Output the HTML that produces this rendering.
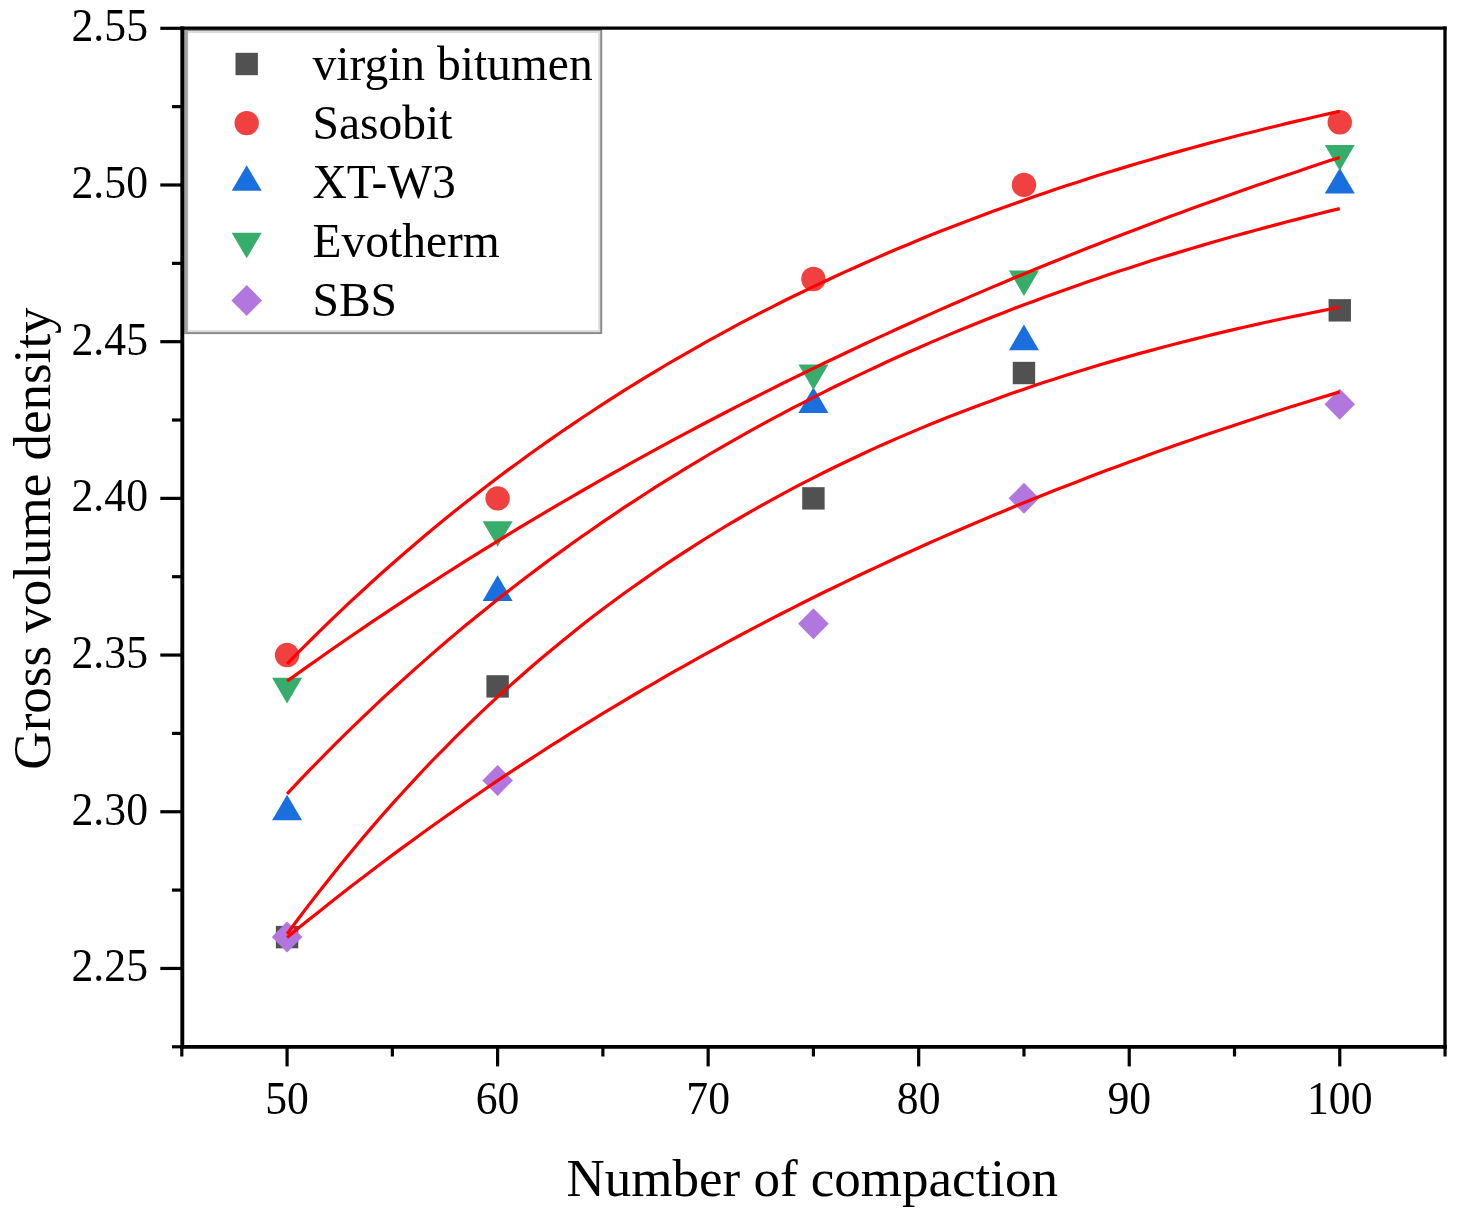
<!DOCTYPE html><html><head><meta charset="utf-8"><style>html,body{margin:0;padding:0;background:#fff;}svg{display:block;filter:blur(0.65px);}text{font-family:"Liberation Serif",serif;fill:#000;}</style></head><body>
<svg width="1462" height="1217" viewBox="0 0 1462 1217">
<rect width="1462" height="1217" fill="#fff"/>
<rect x="275.87" y="925.90" width="22.4" height="22.4" fill="#515151"/>
<rect x="486.41" y="675.20" width="22.4" height="22.4" fill="#515151"/>
<rect x="802.22" y="487.17" width="22.4" height="22.4" fill="#515151"/>
<rect x="1012.76" y="361.82" width="22.4" height="22.4" fill="#515151"/>
<rect x="1328.57" y="299.14" width="22.4" height="22.4" fill="#515151"/>
<circle cx="287.07" cy="655.06" r="12.2" fill="#F14040"/>
<circle cx="497.61" cy="498.37" r="12.2" fill="#F14040"/>
<circle cx="813.42" cy="279.00" r="12.2" fill="#F14040"/>
<circle cx="1023.96" cy="184.99" r="12.2" fill="#F14040"/>
<circle cx="1339.77" cy="122.31" r="12.2" fill="#F14040"/>
<polygon points="287.07,794.68 302.07,820.28 272.07,820.28" fill="#1A6FDF"/>
<polygon points="497.61,575.32 512.61,600.92 482.61,600.92" fill="#1A6FDF"/>
<polygon points="813.42,387.29 828.42,412.89 798.42,412.89" fill="#1A6FDF"/>
<polygon points="1023.96,324.61 1038.96,350.21 1008.96,350.21" fill="#1A6FDF"/>
<polygon points="1339.77,167.92 1354.77,193.52 1324.77,193.52" fill="#1A6FDF"/>
<polygon points="272.07,677.86 302.07,677.86 287.07,703.46" fill="#37AD6B"/>
<polygon points="482.61,521.17 512.61,521.17 497.61,546.77" fill="#37AD6B"/>
<polygon points="798.42,364.48 828.42,364.48 813.42,390.08" fill="#37AD6B"/>
<polygon points="1008.96,270.47 1038.96,270.47 1023.96,296.07" fill="#37AD6B"/>
<polygon points="1324.77,145.12 1354.77,145.12 1339.77,170.72" fill="#37AD6B"/>
<polygon points="287.07,921.60 302.37,937.10 287.07,952.60 271.77,937.10" fill="#B177DE"/>
<polygon points="497.61,764.91 512.91,780.41 497.61,795.91 482.31,780.41" fill="#B177DE"/>
<polygon points="813.42,608.22 828.72,623.72 813.42,639.22 798.12,623.72" fill="#B177DE"/>
<polygon points="1023.96,482.87 1039.26,498.37 1023.96,513.87 1008.66,498.37" fill="#B177DE"/>
<polygon points="1339.77,388.86 1355.07,404.36 1339.77,419.86 1324.47,404.36" fill="#B177DE"/>
<polyline points="287.1,934.0 297.6,919.8 308.1,905.9 318.7,892.3 329.2,878.9 339.7,865.7 350.2,852.9 360.8,840.3 371.3,827.9 381.8,815.7 392.3,803.9 402.9,792.2 413.4,780.8 423.9,769.5 434.4,758.5 445.0,747.8 455.5,737.2 466.0,726.8 476.6,716.7 487.1,706.7 497.6,696.9 508.1,687.4 518.7,678.0 529.2,668.8 539.7,659.7 550.2,650.9 560.8,642.2 571.3,633.7 581.8,625.3 592.4,617.1 602.9,609.1 613.4,601.3 623.9,593.5 634.5,586.0 645.0,578.6 655.5,571.3 666.0,564.2 676.6,557.2 687.1,550.3 697.6,543.6 708.1,537.0 718.7,530.5 729.2,524.2 739.7,518.0 750.3,511.9 760.8,505.9 771.3,500.1 781.8,494.3 792.4,488.7 802.9,483.2 813.4,477.8 823.9,472.5 834.5,467.3 845.0,462.2 855.5,457.2 866.1,452.3 876.6,447.4 887.1,442.7 897.6,438.1 908.2,433.6 918.7,429.1 929.2,424.8 939.7,420.5 950.3,416.3 960.8,412.2 971.3,408.2 981.9,404.2 992.4,400.4 1002.9,396.6 1013.4,392.8 1024.0,389.2 1034.5,385.6 1045.0,382.1 1055.5,378.7 1066.1,375.3 1076.6,372.0 1087.1,368.7 1097.6,365.5 1108.2,362.4 1118.7,359.4 1129.2,356.4 1139.8,353.4 1150.3,350.6 1160.8,347.7 1171.3,345.0 1181.9,342.2 1192.4,339.6 1202.9,337.0 1213.4,334.4 1224.0,331.9 1234.5,329.4 1245.0,327.0 1255.6,324.6 1266.1,322.3 1276.6,320.0 1287.1,317.8 1297.7,315.6 1308.2,313.5 1318.7,311.4 1329.2,309.3 1339.8,307.3" fill="none" stroke="#FF0000" stroke-width="3.2" stroke-linejoin="round"/>
<polyline points="287.1,663.8 297.6,653.1 308.1,642.6 318.7,632.2 329.2,621.9 339.7,611.9 350.2,601.9 360.8,592.2 371.3,582.5 381.8,573.0 392.3,563.7 402.9,554.5 413.4,545.5 423.9,536.5 434.4,527.8 445.0,519.1 455.5,510.6 466.0,502.2 476.6,494.0 487.1,485.8 497.6,477.8 508.1,469.9 518.7,462.2 529.2,454.5 539.7,447.0 550.2,439.6 560.8,432.2 571.3,425.1 581.8,418.0 592.4,411.0 602.9,404.1 613.4,397.3 623.9,390.7 634.5,384.1 645.0,377.7 655.5,371.3 666.0,365.0 676.6,358.8 687.1,352.8 697.6,346.8 708.1,340.9 718.7,335.1 729.2,329.4 739.7,323.7 750.3,318.2 760.8,312.7 771.3,307.3 781.8,302.0 792.4,296.8 802.9,291.7 813.4,286.6 823.9,281.7 834.5,276.7 845.0,271.9 855.5,267.2 866.1,262.5 876.6,257.9 887.1,253.3 897.6,248.8 908.2,244.4 918.7,240.1 929.2,235.8 939.7,231.6 950.3,227.5 960.8,223.4 971.3,219.4 981.9,215.4 992.4,211.5 1002.9,207.7 1013.4,203.9 1024.0,200.2 1034.5,196.5 1045.0,192.9 1055.5,189.3 1066.1,185.8 1076.6,182.4 1087.1,179.0 1097.6,175.6 1108.2,172.3 1118.7,169.1 1129.2,165.9 1139.8,162.8 1150.3,159.7 1160.8,156.6 1171.3,153.6 1181.9,150.6 1192.4,147.7 1202.9,144.9 1213.4,142.0 1224.0,139.3 1234.5,136.5 1245.0,133.8 1255.6,131.2 1266.1,128.5 1276.6,126.0 1287.1,123.4 1297.7,120.9 1308.2,118.5 1318.7,116.0 1329.2,113.6 1339.8,111.3" fill="none" stroke="#FF0000" stroke-width="3.2" stroke-linejoin="round"/>
<polyline points="287.1,793.8 297.6,782.7 308.1,771.7 318.7,760.9 329.2,750.2 339.7,739.7 350.2,729.4 360.8,719.2 371.3,709.1 381.8,699.2 392.3,689.5 402.9,679.9 413.4,670.4 423.9,661.1 434.4,651.9 445.0,642.8 455.5,633.9 466.0,625.1 476.6,616.4 487.1,607.9 497.6,599.5 508.1,591.2 518.7,583.0 529.2,575.0 539.7,567.1 550.2,559.3 560.8,551.6 571.3,544.0 581.8,536.5 592.4,529.2 602.9,521.9 613.4,514.8 623.9,507.7 634.5,500.8 645.0,494.0 655.5,487.2 666.0,480.6 676.6,474.1 687.1,467.6 697.6,461.3 708.1,455.0 718.7,448.9 729.2,442.8 739.7,436.8 750.3,430.9 760.8,425.1 771.3,419.4 781.8,413.8 792.4,408.2 802.9,402.8 813.4,397.4 823.9,392.1 834.5,386.8 845.0,381.7 855.5,376.6 866.1,371.6 876.6,366.7 887.1,361.8 897.6,357.0 908.2,352.3 918.7,347.7 929.2,343.1 939.7,338.6 950.3,334.1 960.8,329.8 971.3,325.5 981.9,321.2 992.4,317.0 1002.9,312.9 1013.4,308.8 1024.0,304.8 1034.5,300.9 1045.0,297.0 1055.5,293.2 1066.1,289.4 1076.6,285.7 1087.1,282.0 1097.6,278.4 1108.2,274.8 1118.7,271.3 1129.2,267.9 1139.8,264.5 1150.3,261.1 1160.8,257.8 1171.3,254.6 1181.9,251.4 1192.4,248.2 1202.9,245.1 1213.4,242.0 1224.0,239.0 1234.5,236.0 1245.0,233.1 1255.6,230.2 1266.1,227.4 1276.6,224.6 1287.1,221.8 1297.7,219.1 1308.2,216.4 1318.7,213.7 1329.2,211.1 1339.8,208.6" fill="none" stroke="#FF0000" stroke-width="3.2" stroke-linejoin="round"/>
<polyline points="287.1,681.1 297.6,673.6 308.1,666.1 318.7,658.7 329.2,651.3 339.7,644.0 350.2,636.7 360.8,629.6 371.3,622.4 381.8,615.3 392.3,608.3 402.9,601.4 413.4,594.4 423.9,587.6 434.4,580.8 445.0,574.0 455.5,567.3 466.0,560.7 476.6,554.1 487.1,547.6 497.6,541.1 508.1,534.6 518.7,528.2 529.2,521.9 539.7,515.6 550.2,509.4 560.8,503.2 571.3,497.1 581.8,491.0 592.4,484.9 602.9,478.9 613.4,473.0 623.9,467.1 634.5,461.2 645.0,455.4 655.5,449.6 666.0,443.9 676.6,438.2 687.1,432.6 697.6,427.0 708.1,421.5 718.7,416.0 729.2,410.5 739.7,405.1 750.3,399.7 760.8,394.4 771.3,389.1 781.8,383.8 792.4,378.6 802.9,373.5 813.4,368.4 823.9,363.3 834.5,358.2 845.0,353.2 855.5,348.3 866.1,343.3 876.6,338.4 887.1,333.6 897.6,328.8 908.2,324.0 918.7,319.3 929.2,314.6 939.7,309.9 950.3,305.3 960.8,300.7 971.3,296.1 981.9,291.6 992.4,287.1 1002.9,282.7 1013.4,278.3 1024.0,273.9 1034.5,269.6 1045.0,265.2 1055.5,261.0 1066.1,256.7 1076.6,252.5 1087.1,248.3 1097.6,244.2 1108.2,240.1 1118.7,236.0 1129.2,232.0 1139.8,227.9 1150.3,224.0 1160.8,220.0 1171.3,216.1 1181.9,212.2 1192.4,208.3 1202.9,204.5 1213.4,200.7 1224.0,196.9 1234.5,193.2 1245.0,189.5 1255.6,185.8 1266.1,182.2 1276.6,178.5 1287.1,174.9 1297.7,171.4 1308.2,167.8 1318.7,164.3 1329.2,160.8 1339.8,157.4" fill="none" stroke="#FF0000" stroke-width="3.2" stroke-linejoin="round"/>
<polyline points="287.1,937.4 297.6,928.8 308.1,920.3 318.7,911.9 329.2,903.5 339.7,895.2 350.2,887.1 360.8,879.0 371.3,870.9 381.8,863.0 392.3,855.1 402.9,847.4 413.4,839.7 423.9,832.0 434.4,824.5 445.0,817.0 455.5,809.6 466.0,802.3 476.6,795.0 487.1,787.8 497.6,780.7 508.1,773.7 518.7,766.7 529.2,759.8 539.7,753.0 550.2,746.2 560.8,739.6 571.3,732.9 581.8,726.4 592.4,719.9 602.9,713.4 613.4,707.1 623.9,700.8 634.5,694.5 645.0,688.4 655.5,682.3 666.0,676.2 676.6,670.2 687.1,664.3 697.6,658.4 708.1,652.6 718.7,646.8 729.2,641.1 739.7,635.5 750.3,629.9 760.8,624.4 771.3,618.9 781.8,613.5 792.4,608.1 802.9,602.8 813.4,597.5 823.9,592.3 834.5,587.2 845.0,582.1 855.5,577.0 866.1,572.0 876.6,567.1 887.1,562.2 897.6,557.3 908.2,552.5 918.7,547.8 929.2,543.0 939.7,538.4 950.3,533.8 960.8,529.2 971.3,524.7 981.9,520.2 992.4,515.8 1002.9,511.4 1013.4,507.0 1024.0,502.7 1034.5,498.5 1045.0,494.3 1055.5,490.1 1066.1,486.0 1076.6,481.9 1087.1,477.8 1097.6,473.8 1108.2,469.8 1118.7,465.9 1129.2,462.0 1139.8,458.2 1150.3,454.3 1160.8,450.6 1171.3,446.8 1181.9,443.1 1192.4,439.5 1202.9,435.8 1213.4,432.3 1224.0,428.7 1234.5,425.2 1245.0,421.7 1255.6,418.2 1266.1,414.8 1276.6,411.5 1287.1,408.1 1297.7,404.8 1308.2,401.5 1318.7,398.3 1329.2,395.1 1339.8,391.9" fill="none" stroke="#FF0000" stroke-width="3.2" stroke-linejoin="round"/>
<rect x="187.3" y="32.0" width="411.90000000000003" height="299.1" fill="none" stroke="#dcdcdc" stroke-width="2"/>
<rect x="185.3" y="30.0" width="415.90000000000003" height="303.1" fill="none" stroke="#8a8a8a" stroke-width="2"/>
<line x1="186.0" y1="30.0" x2="186.0" y2="333.1" stroke="#a2a2a2" stroke-width="3.6"/>
<rect x="235.50" y="52.80" width="22.4" height="22.4" fill="#515151"/>
<text x="312.5" y="80.4" font-size="47.5">virgin bitumen</text>
<circle cx="246.70" cy="123.10" r="12.2" fill="#F14040"/>
<text x="312.5" y="139.4" font-size="47.5">Sasobit</text>
<polygon points="246.70,165.13 261.70,190.73 231.70,190.73" fill="#1A6FDF"/>
<text x="312.5" y="198.4" font-size="47.5">XT-W3</text>
<polygon points="231.70,232.77 261.70,232.77 246.70,258.37" fill="#37AD6B"/>
<text x="312.5" y="257.4" font-size="47.5">Evotherm</text>
<polygon points="246.70,284.90 262.00,300.40 246.70,315.90 231.40,300.40" fill="#B177DE"/>
<text x="312.5" y="316.4" font-size="47.5">SBS</text>
<line x1="180.35" y1="28.10" x2="1446.65" y2="28.10" stroke="#000" stroke-width="3.3"/>
<line x1="1445.00" y1="26.45" x2="1445.00" y2="1048.85" stroke="#000" stroke-width="3.3"/>
<line x1="182.30" y1="26.45" x2="182.30" y2="1048.85" stroke="#000" stroke-width="3.9"/>
<line x1="180.35" y1="1046.90" x2="1446.65" y2="1046.90" stroke="#000" stroke-width="3.9"/>
<line x1="160.3" y1="28.30" x2="182.3" y2="28.30" stroke="#000" stroke-width="3.2"/>
<text transform="translate(148.0,41.1) scale(0.95,1)" font-size="46" text-anchor="end">2.55</text>
<line x1="172.0" y1="106.64" x2="182.3" y2="106.64" stroke="#000" stroke-width="3.2"/>
<line x1="160.3" y1="184.99" x2="182.3" y2="184.99" stroke="#000" stroke-width="3.2"/>
<text transform="translate(148.0,197.8) scale(0.95,1)" font-size="46" text-anchor="end">2.50</text>
<line x1="172.0" y1="263.34" x2="182.3" y2="263.34" stroke="#000" stroke-width="3.2"/>
<line x1="160.3" y1="341.68" x2="182.3" y2="341.68" stroke="#000" stroke-width="3.2"/>
<text transform="translate(148.0,354.5) scale(0.95,1)" font-size="46" text-anchor="end">2.45</text>
<line x1="172.0" y1="420.03" x2="182.3" y2="420.03" stroke="#000" stroke-width="3.2"/>
<line x1="160.3" y1="498.37" x2="182.3" y2="498.37" stroke="#000" stroke-width="3.2"/>
<text transform="translate(148.0,511.2) scale(0.95,1)" font-size="46" text-anchor="end">2.40</text>
<line x1="172.0" y1="576.71" x2="182.3" y2="576.71" stroke="#000" stroke-width="3.2"/>
<line x1="160.3" y1="655.06" x2="182.3" y2="655.06" stroke="#000" stroke-width="3.2"/>
<text transform="translate(148.0,667.9) scale(0.95,1)" font-size="46" text-anchor="end">2.35</text>
<line x1="172.0" y1="733.41" x2="182.3" y2="733.41" stroke="#000" stroke-width="3.2"/>
<line x1="160.3" y1="811.75" x2="182.3" y2="811.75" stroke="#000" stroke-width="3.2"/>
<text transform="translate(148.0,824.5) scale(0.95,1)" font-size="46" text-anchor="end">2.30</text>
<line x1="172.0" y1="890.09" x2="182.3" y2="890.09" stroke="#000" stroke-width="3.2"/>
<line x1="160.3" y1="968.44" x2="182.3" y2="968.44" stroke="#000" stroke-width="3.2"/>
<text transform="translate(148.0,981.2) scale(0.95,1)" font-size="46" text-anchor="end">2.25</text>
<line x1="172.0" y1="1046.79" x2="182.3" y2="1046.79" stroke="#000" stroke-width="3.2"/>
<line x1="181.80" y1="1046.9" x2="181.80" y2="1056.5" stroke="#000" stroke-width="3.2"/>
<line x1="287.07" y1="1046.9" x2="287.07" y2="1066.4" stroke="#000" stroke-width="3.2"/>
<text transform="translate(287.07,1113.7) scale(0.95,1)" font-size="46" text-anchor="middle">50</text>
<line x1="392.34" y1="1046.9" x2="392.34" y2="1056.5" stroke="#000" stroke-width="3.2"/>
<line x1="497.61" y1="1046.9" x2="497.61" y2="1066.4" stroke="#000" stroke-width="3.2"/>
<text transform="translate(497.61,1113.7) scale(0.95,1)" font-size="46" text-anchor="middle">60</text>
<line x1="602.88" y1="1046.9" x2="602.88" y2="1056.5" stroke="#000" stroke-width="3.2"/>
<line x1="708.15" y1="1046.9" x2="708.15" y2="1066.4" stroke="#000" stroke-width="3.2"/>
<text transform="translate(708.15,1113.7) scale(0.95,1)" font-size="46" text-anchor="middle">70</text>
<line x1="813.42" y1="1046.9" x2="813.42" y2="1056.5" stroke="#000" stroke-width="3.2"/>
<line x1="918.69" y1="1046.9" x2="918.69" y2="1066.4" stroke="#000" stroke-width="3.2"/>
<text transform="translate(918.69,1113.7) scale(0.95,1)" font-size="46" text-anchor="middle">80</text>
<line x1="1023.96" y1="1046.9" x2="1023.96" y2="1056.5" stroke="#000" stroke-width="3.2"/>
<line x1="1129.23" y1="1046.9" x2="1129.23" y2="1066.4" stroke="#000" stroke-width="3.2"/>
<text transform="translate(1129.23,1113.7) scale(0.95,1)" font-size="46" text-anchor="middle">90</text>
<line x1="1234.50" y1="1046.9" x2="1234.50" y2="1056.5" stroke="#000" stroke-width="3.2"/>
<line x1="1339.77" y1="1046.9" x2="1339.77" y2="1066.4" stroke="#000" stroke-width="3.2"/>
<text transform="translate(1339.77,1113.7) scale(0.95,1)" font-size="46" text-anchor="middle">100</text>
<line x1="1445.04" y1="1046.9" x2="1445.04" y2="1056.5" stroke="#000" stroke-width="3.2"/>
<text x="812.3" y="1195.5" font-size="53" text-anchor="middle">Number of compaction</text>
<text transform="translate(50,538.5) rotate(-90)" x="0" y="0" font-size="53" text-anchor="middle">Gross volume density</text>
</svg></body></html>
